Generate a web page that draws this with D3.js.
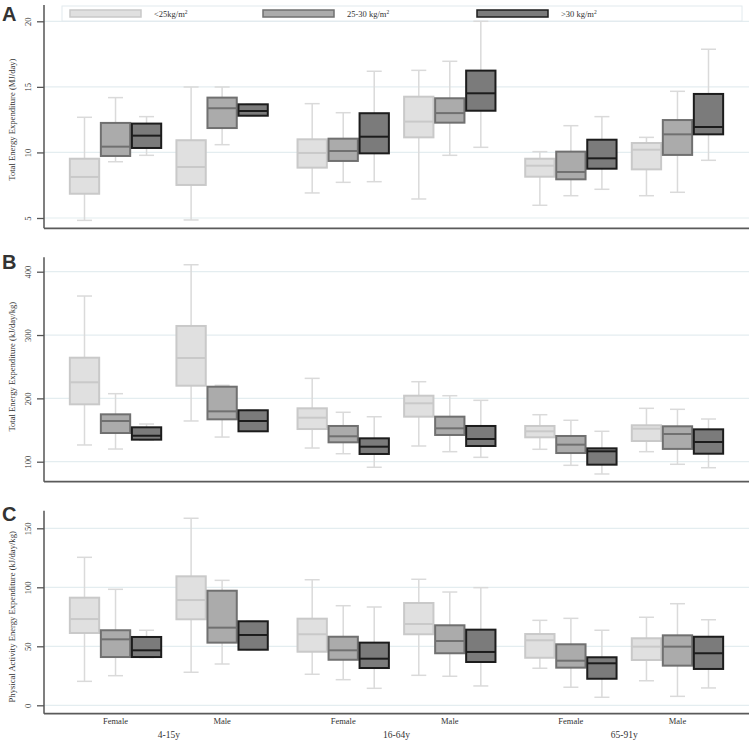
<!DOCTYPE html>
<html>
<head>
<meta charset="utf-8">
<script src="https://cdn.jsdelivr.net/npm/d3@7/dist/d3.min.js"></script>
<style>
  html, body { margin: 0; padding: 0; background: #fff; }
  svg { display: block; }
  text { font-family: "Liberation Serif", "DejaVu Serif", serif; fill: #333; }
</style>
</head>
<body>
<svg id="chart" width="752" height="741"></svg>
<script>
// ---------------- DATA ----------------
const categories = ["Female", "Male", "Female", "Male", "Female", "Male"];
const ageGroups = ["4-15y", "16-64y", "65-91y"];
const seriesNames = ["<25kg/m", "25-30 kg/m", ">30 kg/m"]; // each followed by superscript 2

// each entry: [lower whisker, Q1, median, Q3, upper whisker] per category
const teeMJ_lt25   = [[4.82, 6.85, 8.13, 9.52, 12.68], [4.85, 7.52, 8.89, 10.93, 14.99], [6.91, 8.84, 9.96, 11.0, 13.72], [6.45, 11.15, 12.35, 14.25, 16.26], [5.97, 8.15, 8.99, 9.52, 10.06], [6.7, 8.71, 10.21, 10.72, 11.15]];
const teeMJ_25to30 = [[9.29, 9.73, 10.44, 12.25, 14.18], [10.59, 11.86, 13.37, 14.18, 14.99], [7.72, 9.35, 10.11, 11.05, 13.03], [9.78, 12.27, 13.0, 14.13, 16.95], [6.7, 7.95, 8.51, 10.06, 12.04], [6.96, 9.81, 11.38, 12.47, 14.66]];
const teeMJ_gt30   = [[9.78, 10.34, 11.28, 12.2, 12.73], [12.8, 12.8, 13.16, 13.67, 13.67], [7.77, 9.93, 11.2, 12.99, 16.19], [10.39, 13.18, 14.51, 16.24, 20.0], [7.19, 8.76, 9.55, 10.97, 12.73], [9.4, 11.38, 11.94, 14.46, 17.87]];

const teeKJ_lt25   = [[126.4, 190.6, 225.4, 264.2, 361.6], [164.3, 220.0, 263.7, 314.3, 411.0], [121.6, 151.6, 169.5, 184.3, 231.6], [124.8, 171.1, 192.2, 204.2, 226.3], [119.6, 138.5, 148.0, 156.4, 174.2], [115.8, 132.7, 152.1, 157.5, 184.3]];
const teeKJ_25to30 = [[120.0, 145.3, 164.3, 174.8, 207.4], [138.9, 166.9, 179.5, 218.4, 220.6], [112.6, 130.6, 140.1, 156.4, 178.0], [115.8, 142.2, 152.7, 171.1, 204.2], [94.3, 113.7, 126.9, 140.6, 165.4], [95.9, 120.2, 143.7, 155.9, 182.7]];
const teeKJ_gt30   = [[134.0, 134.8, 141.0, 154.3, 159.5], [148.0, 148.0, 164.3, 181.2, 181.2], [91.2, 112.2, 123.7, 136.9, 171.0], [106.9, 124.8, 135.8, 156.4, 196.9], [80.6, 95.3, 116.4, 121.1, 148.0], [90.5, 112.6, 131.1, 151.1, 167.4]];

const paee_lt25   = [[20.3, 61.3, 73.1, 91.2, 125.4], [28.0, 72.9, 89.2, 109.3, 158.5], [26.3, 45.4, 60.2, 73.4, 106.4], [25.4, 60.2, 68.9, 86.7, 106.8], [31.4, 40.3, 55.1, 60.4, 72.0], [20.8, 38.4, 49.7, 56.8, 74.6]];
const paee_25to30 = [[25.1, 40.9, 55.9, 63.6, 98.3], [35.0, 53.1, 65.8, 97.1, 105.9], [21.7, 38.6, 46.6, 58.1, 84.4], [24.6, 44.1, 54.5, 67.8, 96.0], [15.3, 31.9, 37.8, 51.7, 73.7], [7.6, 33.6, 49.7, 59.3, 86.1]];
const paee_gt30   = [[40.5, 40.9, 46.6, 57.9, 63.6], [47.1, 47.1, 59.6, 71.2, 71.2], [14.4, 31.6, 39.5, 53.1, 83.3], [16.4, 36.7, 45.2, 64.1, 99.7], [6.8, 22.5, 35.6, 40.7, 63.6], [14.7, 30.8, 44.1, 58.1, 72.5]];

const ticksA = [5, 10, 15, 20];
const ticksB = [100, 200, 300, 400];
const ticksC = [0, 50, 100, 150];

// ---------------- LAYOUT / STYLE ----------------
const svg = d3.select("#chart");
const plotLeft = 44, plotRight = 749;
const gapUnits = 0.136;   // extra gap between age groups
const catPos = categories.map((c, i) => i + Math.floor(i / 2) * gapUnits);
const x = d3.scaleLinear().domain([-0.671, 5 + 2 * gapUnits + 0.671]).range([plotLeft, plotRight]);
const unit = x(1) - x(0);
const boxW = 0.275 * unit;
const seriesOffset = [-0.291, 0, 0.291];

const fills   = ["#e0e0e0", "#ababab", "#7b7b7b"];
const strokes = ["#c9c9c9", "#707070", "#1c1c1c"];
const whiskerColor = "#dadada";
const gridColor = "#e4edf0";
const axisColor = "#555";

const panels = [
  { letter: "A", title: "Total Energy Expenditure (MJ/day)", data: [teeMJ_lt25, teeMJ_25to30, teeMJ_gt30],
    ticks: ticksA, domain: [5, 20], range: [218, 21.3], top: 5, bottom: 228.3, letterY: 21, legend: true },
  { letter: "B", title: "Total Energy Expenditure (kJ/day/kg)", data: [teeKJ_lt25, teeKJ_25to30, teeKJ_gt30],
    ticks: ticksB, domain: [100, 400], range: [461.7, 271.7], top: 257.3, bottom: 481.7, letterY: 269 },
  { letter: "C", title: "Physical Activity Energy Expenditure (kJ/day/kg)", data: [paee_lt25, paee_25to30, paee_gt30],
    ticks: ticksC, domain: [0, 150], range: [705.3, 528.3], top: 510.7, bottom: 713.7, letterY: 521, xlabels: true }
];

panels.forEach(p => {
  const g = svg.append("g");
  const y = d3.scaleLinear().domain(p.domain).range(p.range);

  // gridlines
  g.selectAll("line.grid").data(p.ticks).join("line")
    .attr("x1", plotLeft).attr("x2", plotRight)
    .attr("y1", d => y(d)).attr("y2", d => y(d))
    .attr("stroke", gridColor).attr("stroke-width", 1.2);

  // y axis
  const yAxis = d3.axisLeft(y).tickValues(p.ticks).tickSize(7).tickPadding(0).tickFormat(d3.format("d"));
  const ag = g.append("g").attr("transform", `translate(${plotLeft},0)`).call(yAxis);
  ag.select(".domain").remove();
  ag.selectAll(".tick line").attr("stroke", axisColor).attr("stroke-width", 1.3);
  ag.selectAll(".tick text")
    .attr("x", 0).attr("dy", 0)
    .attr("transform", "translate(-13,0) rotate(-90)")
    .attr("text-anchor", "middle")
    .style("font-family", "'Liberation Serif', serif")
    .style("font-size", "8.5px").attr("fill", "#444");
  g.append("line").attr("x1", plotLeft).attr("x2", plotLeft)
    .attr("y1", p.top).attr("y2", p.bottom).attr("stroke", axisColor).attr("stroke-width", 1.5);
  g.append("line").attr("x1", plotLeft).attr("x2", plotRight)
    .attr("y1", p.bottom).attr("y2", p.bottom).attr("stroke", "#5a5a5a").attr("stroke-width", 1.8);

  // y title
  const midY = (y(p.domain[0]) + y(p.domain[1])) / 2;
  g.append("text")
    .attr("transform", `translate(15,${midY}) rotate(-90)`)
    .attr("text-anchor", "middle")
    .style("font-size", "8.6px").attr("fill", "#444")
    .text(p.title);

  // panel letter
  g.append("text").attr("x", 2).attr("y", p.letterY)
    .style("font-family", "'Liberation Sans', Arial, sans-serif")
    .style("font-weight", "bold").style("font-size", "20px").attr("fill", "#111")
    .text(p.letter);

  // legend
  if (p.legend) {
    g.append("rect").attr("x", 62).attr("y", 6).attr("width", 680).attr("height", 15)
      .attr("fill", "#fff").attr("stroke", "#e2eaee").attr("stroke-width", 1);
    const lx = [70, 263, 477];
    seriesNames.forEach((s, i) => {
      g.append("rect").attr("x", lx[i]).attr("y", 10).attr("width", 71).attr("height", 7)
        .attr("fill", fills[i]).attr("stroke", strokes[i]).attr("stroke-width", 1.5);
      const t = g.append("text").attr("x", lx[i] + 84).attr("y", 17)
        .style("font-size", "8.5px").attr("fill", "#2a3448");
      t.append("tspan").text(s);
      t.append("tspan").attr("dy", -3.5).style("font-size", "5.5px").text("2");
    });
  }

  // boxes
  p.data.forEach((ser, si) => {
    const sg = g.append("g");
    const cx = (ci) => x(catPos[ci] + seriesOffset[si]);
    ser.forEach((d, ci) => {
      const [lo, q1, med, q3, hi] = d;
      const c = cx(ci);
      // whiskers
      sg.append("line").attr("x1", c).attr("x2", c).attr("y1", y(hi)).attr("y2", y(q3))
        .attr("stroke", whiskerColor).attr("stroke-width", 1.5);
      sg.append("line").attr("x1", c).attr("x2", c).attr("y1", y(q1)).attr("y2", y(lo))
        .attr("stroke", whiskerColor).attr("stroke-width", 1.5);
      [hi, lo].forEach(v => {
        sg.append("line").attr("x1", c - 7.5).attr("x2", c + 7.5).attr("y1", y(v)).attr("y2", y(v))
          .attr("stroke", whiskerColor).attr("stroke-width", 1.5);
      });
      // box
      sg.append("rect").attr("x", c - boxW / 2).attr("width", boxW)
        .attr("y", y(q3)).attr("height", Math.max(0.5, y(q1) - y(q3)))
        .attr("fill", fills[si]).attr("stroke", strokes[si]).attr("stroke-width", 2);
      sg.append("line").attr("x1", c - boxW / 2).attr("x2", c + boxW / 2)
        .attr("y1", y(med)).attr("y2", y(med))
        .attr("stroke", strokes[si]).attr("stroke-width", 2);
    });
  });

  // x labels
  if (p.xlabels) {
    g.selectAll("text.cat").data(categories).join("text")
      .attr("x", (d, i) => x(catPos[i])).attr("y", 724)
      .attr("text-anchor", "middle").style("font-size", "8.5px").attr("fill", "#333")
      .text(d => d);
    g.selectAll("text.age").data(ageGroups).join("text")
      .attr("x", (d, i) => (x(catPos[2 * i]) + x(catPos[2 * i + 1])) / 2).attr("y", 738)
      .attr("text-anchor", "middle").style("font-size", "9.5px").attr("fill", "#333")
      .text(d => d);
  }
});
</script>
</body>
</html>
